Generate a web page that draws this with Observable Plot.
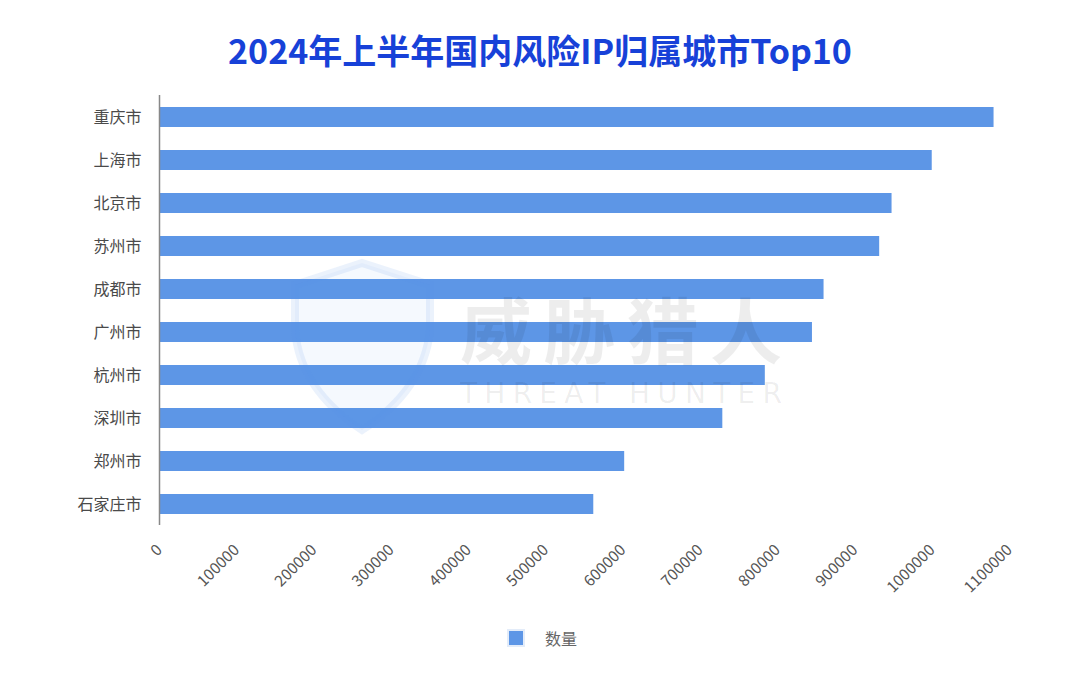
<!DOCTYPE html>
<html>
<head>
<meta charset="utf-8">
<script src="https://cdn.jsdelivr.net/npm/d3@7"></script>
<script src="https://cdn.jsdelivr.net/npm/@observablehq/plot@0.6"></script>
<style>
  html, body { margin: 0; padding: 0; background: #fff; }
  body { width: 1080px; height: 694px; position: relative; overflow: hidden; font-family: "Noto Sans CJK SC", "Noto Sans", sans-serif; }
  #title { position: absolute; left: 0; top: 27px; width: 1080px; text-align: center; font-size: 34px; font-weight: 700; color: #1741d8; line-height: 46px; }
  #chart { position: absolute; left: 0; top: 80px; }
  #legend { position: absolute; left: 0; top: 626px; width: 1080px; display: flex; justify-content: center; align-items: center; font-size: 16px; color: #666; }
  #legend .sw { width: 14px; height: 14px; background: #5d96e6; border: 2px solid #e3ecf9; margin-right: 20px; margin-left: 4px; }
  #wm { position: absolute; left: 0; top: 0; width: 1080px; height: 694px; pointer-events: none; }
</style>
</head>
<body>
<div id="title">2024年上半年国内风险IP归属城市Top10</div>
<div id="chart"></div>
<div id="legend"><div class="sw"></div><span>数量</span></div>
<svg id="wm" width="1080" height="694">
  <path d="M362 263 L295 285 L295 330 Q300 390 362 430 Q424 390 430 330 L430 285 Z" fill="rgba(91,150,230,0.06)" stroke="rgba(91,150,230,0.12)" stroke-width="8"/>
  <text x="460" y="358" font-size="72" font-weight="700" fill="rgba(0,0,0,0.07)" font-family="Noto Sans CJK SC" textLength="322">威胁猎人</text>
  <text x="460" y="403" font-size="28" fill="rgba(0,0,0,0.07)" font-family="DejaVu Sans" textLength="322" lengthAdjust="spacing">THREAT HUNTER</text>
</svg>
<script>
const cities = ["重庆市", "上海市", "北京市", "苏州市", "成都市", "广州市", "杭州市", "深圳市", "郑州市", "石家庄市"];
const counts = [1080000, 1000000, 948000, 932000, 860000, 845000, 784000, 729000, 602000, 562000];
const xTicks = [0, 100000, 200000, 300000, 400000, 500000, 600000, 700000, 800000, 900000, 1000000, 1100000];

const data = cities.map((c, i) => ({city: c, value: counts[i]}));

const chart = Plot.plot({
  width: 1080,
  height: 530,
  marginTop: 15,
  marginBottom: 85,
  marginLeft: 159,
  marginRight: 71,
  style: {fontFamily: "'Noto Sans CJK SC', 'Noto Sans', sans-serif", background: "transparent"},
  x: {domain: [0, 1100000], ticks: xTicks, tickFormat: d => String(d), label: null},
  y: {domain: cities, label: null, paddingInner: 0.54, paddingOuter: 0.25},
  marks: [
    Plot.barX(data, {y: "city", x: "value", fill: "#5d96e6"}),
    Plot.axisX({ticks: xTicks, tickFormat: d => String(d), tickSize: 0, tickPadding: 22, tickRotate: -45, fontSize: 15.5, fill: "#555", label: null}),
    Plot.axisY({tickSize: 0, tickPadding: 18, fontSize: 16, fill: "#4a4a4a", label: null}),
    Plot.ruleX([0], {stroke: "#888", strokeWidth: 1.5})
  ]
});
document.getElementById("chart").appendChild(chart);
</script>
</body>
</html>
